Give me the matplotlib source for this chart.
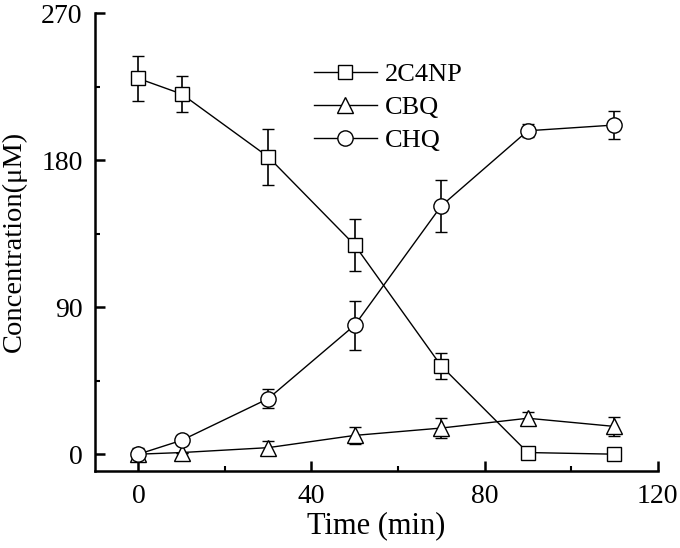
import matplotlib
matplotlib.use("Agg")
import matplotlib.pyplot as plt
from matplotlib.ticker import MultipleLocator
from matplotlib.lines import Line2D

time = [0, 10, 30, 50, 70, 90, 110]
c2c4np = [230, 220.5, 182, 128, 54, 1, 0]
c2c4np_err = [14, 11, 17, 16, 8, 0, 0]
cbq = [0, 1, 4, 11.5, 16, 22, 17]
cbq_err = [4, 0, 4, 5, 6, 4, 6]
chq = [0, 8.5, 34, 79, 152, 198, 201.5]
chq_err = [0, 3, 6, 15, 16, 4, 8.5]

plt.rcParams['font.family'] = ['Liberation Serif', 'DejaVu Serif']

fig = plt.figure(figsize=(6.8, 5.48), dpi=100)
ax = fig.add_axes([0.14, 0.1414, 0.827, 0.8346])

series = [
    (c2c4np, c2c4np_err, 's', 10, '2C4NP'),
    (cbq, cbq_err, '^', 11, 'CBQ'),
    (chq, chq_err, 'o', 11, 'CHQ'),
]
handles = []
for y, e, m, ms, lab in series:
    ax.errorbar(time, y, yerr=e, color='black', lw=1.0, marker=m, ms=ms,
                mfc='white', mec='black', mew=1.0, ecolor='black',
                elinewidth=1.2, capsize=4, capthick=1.2)
    handles.append(Line2D([], [], color='black', lw=1.0, marker=m, ms=ms,
                          mfc='white', mec='black', mew=1.0, label=lab))

ax.set_xlim(-10, 120)
ax.set_ylim(-10, 270)
ax.xaxis.set_major_locator(MultipleLocator(40))
ax.xaxis.set_minor_locator(MultipleLocator(20))
ax.yaxis.set_major_locator(MultipleLocator(90))
ax.yaxis.set_minor_locator(MultipleLocator(45))
for s in ['top', 'right']:
    ax.spines[s].set_visible(False)
for s in ['left', 'bottom']:
    ax.spines[s].set_linewidth(1.8)
ax.tick_params(which='major', direction='in', length=7, width=1.8, labelsize=20)
ax.tick_params(axis='y', which='major', pad=9)
ax.tick_params(axis='x', which='major', pad=10)
ax.tick_params(which='minor', direction='in', length=3.5, width=1.5)

ax.set_xlabel('Time (min)', fontsize=22, labelpad=1)
ax.set_ylabel('Concentration(μM)', fontsize=20.5, labelpad=10)

ax.legend(handles=handles, loc='upper left', bbox_to_anchor=(0.365, 0.92),
          frameon=False, fontsize=19, handlelength=2.4, handletextpad=0.3,
          labelspacing=0.35, borderpad=0)

fig.savefig('out.png', dpi=100)
